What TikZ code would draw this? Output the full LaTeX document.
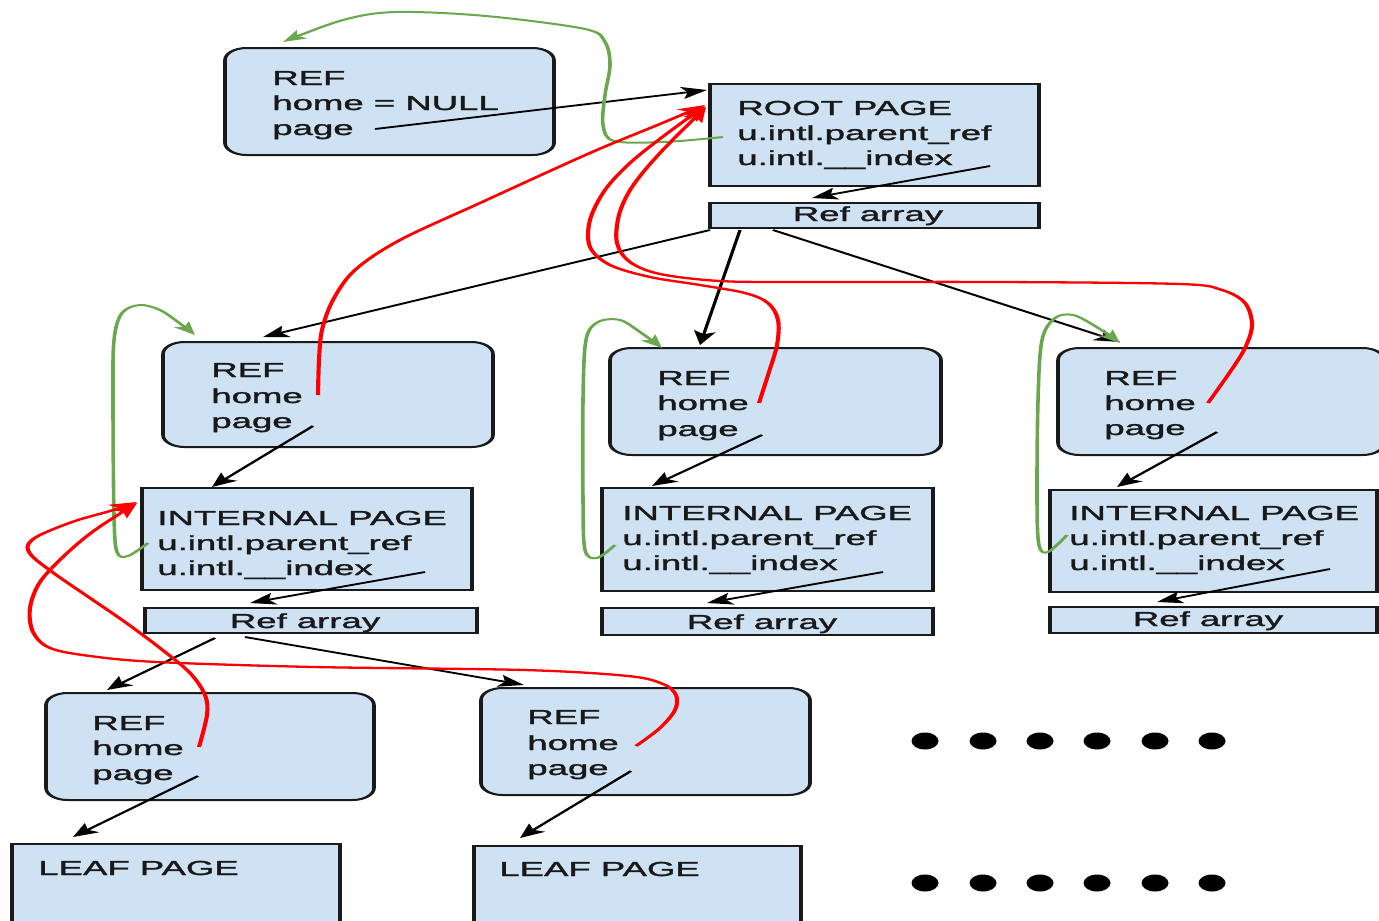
\documentclass[tikz,border=0pt]{standalone}
\usepackage{fontspec}
\setmainfont{Liberation Sans}[FakeBold=1.2]
\usetikzlibrary{arrows.meta,fit}
\definecolor{boxfill}{HTML}{CFE2F3}
\definecolor{gline}{HTML}{6AA84F}
\definecolor{rline}{HTML}{FF0000}
\definecolor{bord}{HTML}{1A1A1A}
\tikzset{
  pagebox/.style={draw=bord,fill=boxfill,line width=2pt,inner sep=0pt,outer sep=0pt},
  refbox/.style={pagebox,rounded corners=12pt},
  txt/.style={anchor=base west,inner sep=0pt,text=black!90,font=\fontsize{20.3}{24}\selectfont},
  ctxt/.style={txt,anchor=base},
  blk/.style={draw=black,line width=1.8pt,-{Stealth[length=14pt,width=12pt,inset=3pt]}},
  grn/.style={draw=gline,line width=2pt,-{Stealth[length=13pt,width=10pt,inset=3pt]}},
  rd/.style={draw=rline,line width=2.3pt,-{Stealth[length=15pt,width=12pt,inset=3.5pt]}},
}
\begin{document}
\begin{tikzpicture}
\useasboundingbox (0pt,0pt) rectangle (1379pt,-921pt);
\fill[white] (0pt,0pt) rectangle (1379pt,-921pt);
\begin{scope}[transform canvas={xscale=1.8},x=0.555556pt,y=-1pt]
% ---------- boxes
\node[refbox,fit={(225,48)(554,155)}] (ref0) {};
\node[pagebox,fit={(710,84)(1039,186)}] (root) {};
\node[pagebox,fit={(710,203)(1039,228)}] (rootarr) {};
\node[refbox,fit={(163,342)(493,447)}] (refL) {};
\node[pagebox,fit={(142,488)(472,590)}] (intL) {};
\node[pagebox,fit={(145,608)(477,633)}] (arrL) {};
\node[refbox,fit={(610,348)(941,455)}] (refM) {};
\node[pagebox,fit={(602,488)(933,591)}] (intM) {};
\node[pagebox,fit={(602,608)(933,635)}] (arrM) {};
\node[refbox,fit={(1058,348)(1384,455)}] (refR) {};
\node[pagebox,fit={(1050,490)(1377,592)}] (intR) {};
\node[pagebox,fit={(1050,607)(1377,633)}] (arrR) {};
\node[refbox,fit={(46,693)(374,800)}] (refBL) {};
\node[refbox,fit={(481,688)(810,795)}] (refBM) {};
\node[pagebox,fit={(12,844)(340,950)}] (leafL) {};
\node[pagebox,fit={(474,846)(801,950)}] (leafM) {};
% ---------- texts
\node[txt] (ref0a) at (272,85) {REF};
\node[txt] (ref0b) at (272,110) {home = NULL};
\node[txt] (ref0c) at (272,135) {page};
\node[txt] (roota) at (737,115) {ROOT PAGE};
\node[txt] (rootb) at (737,140) {u.intl.parent\_ref};
\node[txt] (rootc) at (737,165) {u.intl.\_\_index};
\node[ctxt] (rootarrt) at (868,221) {Ref array};
\node[txt] (refLa) at (211,377) {REF};
\node[txt] (refLb) at (211,403) {home};
\node[txt] (refLc) at (211,428) {page};
\node[txt] (intLa) at (157,525) {INTERNAL PAGE};
\node[txt] (intLb) at (157,550) {u.intl.parent\_ref};
\node[txt] (intLc) at (157,575) {u.intl.\_\_index};
\node[ctxt] (arrLt) at (305,628) {Ref array};
\node[txt] (refMa) at (657,385) {REF};
\node[txt] (refMb) at (657,410) {home};
\node[txt] (refMc) at (657,436) {page};
\node[txt] (intMa) at (622,520) {INTERNAL PAGE};
\node[txt] (intMb) at (622,545) {u.intl.parent\_ref};
\node[txt] (intMc) at (622,570) {u.intl.\_\_index};
\node[ctxt] (arrMt) at (762,629) {Ref array};
\node[txt] (refRa) at (1104,385) {REF};
\node[txt] (refRb) at (1104,410) {home};
\node[txt] (refRc) at (1104,435) {page};
\node[txt] (intRa) at (1069,520) {INTERNAL PAGE};
\node[txt] (intRb) at (1069,545) {u.intl.parent\_ref};
\node[txt] (intRc) at (1069,570) {u.intl.\_\_index};
\node[ctxt] (arrRt) at (1208,626) {Ref array};
\node[txt] (refBLa) at (92,730) {REF};
\node[txt] (refBLb) at (92,755) {home};
\node[txt] (refBLc) at (92,780) {page};
\node[txt] (refBMa) at (527,724) {REF};
\node[txt] (refBMb) at (527,750) {home};
\node[txt] (refBMc) at (527,775) {page};
\node[txt] (leafLt) at (38,875) {LEAF PAGE};
\node[txt] (leafMt) at (499,876) {LEAF PAGE};
% ---------- dots
\foreach \xx in {925,983,1040,1097,1155,1212}{
  \foreach \yy in {741,883}{
    \fill[black] (\xx,\yy) ellipse [x radius=7.5pt, y radius=8.5pt];
  }
}
% ---------- named connector ends
\coordinate (a1s) at (375,129);  \coordinate (a1t) at (707,90);
\coordinate (a2s) at (990,166);  \coordinate (a2t) at (812,198);
\coordinate (a3s) at (710,230);  \coordinate (a3t) at (263,337);
\coordinate (a4s) at (740,230);  \coordinate (a4t) at (700,345);
\coordinate (a5s) at (773,230);  \coordinate (a5t) at (1120,342);
\coordinate (a6s) at (313,426);  \coordinate (a6t) at (212,487);
\coordinate (a7s) at (425,572);  \coordinate (a7t) at (250,603);
\coordinate (a8s) at (215,638);  \coordinate (a8t) at (107,690);
\coordinate (a9s) at (245,637);  \coordinate (a9t) at (524,685);
\coordinate (a10s) at (762,435); \coordinate (a10t) at (652,486);
\coordinate (a11s) at (883,572); \coordinate (a11t) at (707,603);
\coordinate (a12s) at (1217,432); \coordinate (a12t) at (1117,487);
\coordinate (a13s) at (1330,569); \coordinate (a13t) at (1157,602);
\coordinate (a14s) at (198,776); \coordinate (a14t) at (73,837);
\coordinate (a15s) at (631,771); \coordinate (a15t) at (520,838);
% ---------- black arrows
\draw[blk] (a1s) -- (a1t);
\draw[blk] (a2s) -- (a2t);
\draw[blk] (a3s) -- (a3t);
\draw[blk] (a4s) -- (a4t);
\draw[blk] (a5s) -- (a5t);
\draw[blk] (a6s) -- (a6t);
\draw[blk] (a7s) -- (a7t);
\draw[blk] (a8s) -- (a8t);
\draw[blk] (a9s) -- (a9t);
\draw[blk] (a10s) -- (a10t);
\draw[blk] (a11s) -- (a11t);
\draw[blk] (a12s) -- (a12t);
\draw[blk] (a13s) -- (a13t);
\draw[blk] (a14s) -- (a14t);
\draw[blk] (a15s) -- (a15t);
% ---------- green (parent_ref) curves
\coordinate (g1s) at (723,137); \coordinate (g1t) at (283,42);
\coordinate (g2s) at (148,543); \coordinate (g2t) at (195,335);
\coordinate (g3s) at (615,545); \coordinate (g3t) at (662,348);
\coordinate (g4s) at (1067,535); \coordinate (g4t) at (1120,343);
\draw[grn] plot[smooth,tension=0.55] coordinates {(g1s) (664,142) (614,141) (603,125) (605,95) (610,65) (605,42) (585,29) (486,16) (396,12) (343,20) (g1t)};
\draw[grn] plot[smooth,tension=0.55] coordinates {(g2s) (128,556) (117,552) (114,515) (113,400) (114,340) (122,313) (140,305) (160,310) (178,322) (g2t)};
\draw[grn] plot[smooth,tension=0.55] coordinates {(g3s) (597,558) (585,550) (583,500) (583,400) (586,340) (598,322) (620,320) (640,332) (g3t)};
\draw[grn] plot[smooth,tension=0.55] coordinates {(g4s) (1048,552) (1039,545) (1037,500) (1038,400) (1042,340) (1055,318) (1073,315) (1095,326) (g4t)};
% ---------- red (home) curves
\coordinate (r1s) at (318,395);  \coordinate (r1t) at (705,105);
\coordinate (r2s) at (759,403);  \coordinate (r2t) at (705,106);
\coordinate (r3s) at (1208,403); \coordinate (r3t) at (706,107);
\coordinate (r4s) at (199,747);  \coordinate (r4t) at (137,502);
\coordinate (r5s) at (636,746);  \coordinate (r5t) at (137,503);
\draw[rd] plot[smooth,tension=0.55] coordinates {(r1s) (319,360) (322,330) (333,300) (355,270) (400,240) (480,203) (590,153) (660,124) (r1t)};
\draw[rd] plot[smooth,tension=0.55] coordinates {(r2s) (768,375) (777,345) (778,320) (768,303) (745,293) (700,285) (650,277) (610,265) (590,247) (590,220) (605,190) (630,163) (665,135) (r2t)};
\draw[rd] plot[smooth,tension=0.55] coordinates {(r3s) (1230,372) (1245,348) (1252,325) (1245,303) (1222,290) (1180,284) (1000,282) (800,282) (720,281) (660,274) (630,262) (617,243) (619,215) (632,187) (660,153) (r3t)};
\draw[rd] plot[smooth,tension=0.55] coordinates {(r4s) (207,715) (205,695) (190,673) (160,648) (125,622) (90,598) (55,574) (32,556) (28,545) (40,535) (75,521) (110,511) (r4t)};
\draw[rd] plot[smooth,tension=0.55] coordinates {(r5s) (660,728) (675,710) (676,695) (663,684) (628,676) (524,670) (314,667) (157,662) (90,656) (50,648) (33,632) (30,608) (40,582) (65,555) (95,530) (r5t)};
\end{scope}
\end{tikzpicture}
\end{document}
